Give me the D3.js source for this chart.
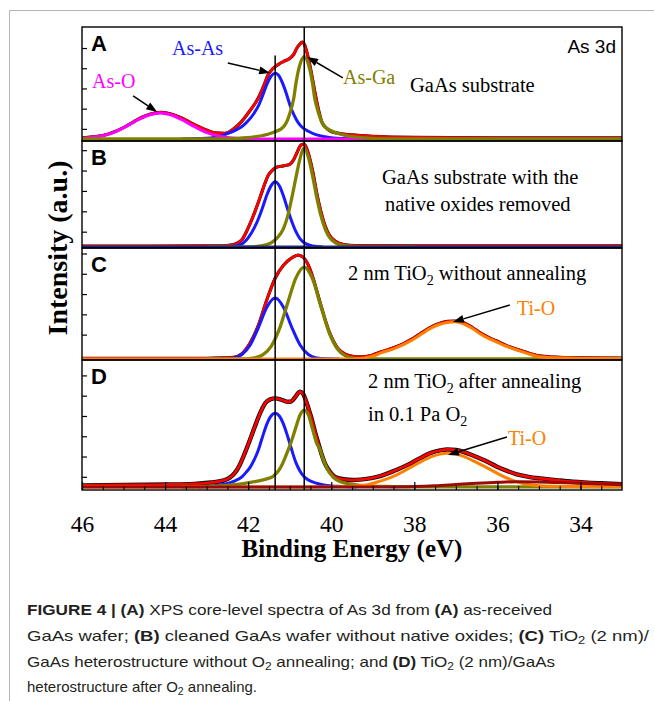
<!DOCTYPE html>
<html>
<head>
<meta charset="utf-8">
<title>As 3d XPS spectra</title>
<script src="https://cdn.jsdelivr.net/npm/d3@7"></script>
<style>
body { margin: 0; background: #fff; }
</style>
</head>
<body>
<script>
// binding energy (eV) , intensity (a.u.)
var xMajor = [46, 44, 42, 40, 38, 36, 34];
var refLines = [41.35, 40.65];

// panel A : as-received GaAs
var fitA = [[46,0.06],[45.75,0.1],[45.5,0.17],[45.25,0.33],[45,0.56],[44.75,0.86],[44.5,1.12],[44.25,1.28],[44.1,1.32],[43.9,1.26],[43.6,1.04],[43.3,0.72],[43,0.44],[42.8,0.3],[42.56,0.28],[42.35,0.5],[42.16,0.86],[41.95,1.42],[41.76,2.01],[41.62,2.65],[41.52,3.17],[41.42,3.45],[41.35,3.58],[41.25,3.72],[41.15,3.83],[40.99,4.0],[40.9,4.2],[40.83,4.49],[40.76,4.68],[40.7,4.79],[40.64,4.65],[40.59,4.32],[40.53,3.8],[40.47,3.17],[40.41,2.5],[40.35,1.85],[40.29,1.3],[40.23,0.86],[40.12,0.55],[39.99,0.36],[39.75,0.26],[39.51,0.2],[39,0.13],[38,0.08],[36,0.06],[33,0.05]];
var asAsA = [[43.6,0],[43.2,0.02],[42.9,0.05],[42.7,0.12],[42.5,0.26],[42.3,0.44],[42.15,0.62],[42.05,0.8],[41.95,1.02],[41.85,1.3],[41.75,1.65],[41.65,2.15],[41.55,2.7],[41.45,3.1],[41.35,3.25],[41.25,3.1],[41.15,2.65],[41.05,2.05],[40.99,1.65],[40.9,1.2],[40.8,0.82],[40.7,0.58],[40.55,0.38],[40.35,0.2],[40.15,0.11],[39.95,0.05],[39.7,0.02],[39.4,0],[38.5,0]];
var asGaA = [[46,0],[42.85,0],[42.25,0.03],[41.85,0.1],[41.55,0.22],[41.35,0.36],[41.15,0.6],[41.05,0.95],[40.95,1.6],[40.9,2.04],[40.85,2.75],[40.75,3.7],[40.65,4.07],[40.55,3.7],[40.45,2.75],[40.4,2.04],[40.35,1.6],[40.25,0.95],[40.15,0.6],[39.95,0.36],[39.75,0.22],[39.45,0.1],[39.05,0.03],[38.5,0],[33,0]];
var asOA = [[46,0.03],[45.87,0.05],[45.62,0.11],[45.37,0.23],[45.12,0.43],[44.87,0.7],[44.62,0.98],[44.37,1.2],[44.12,1.29],[43.87,1.2],[43.62,0.98],[43.37,0.7],[43.12,0.43],[42.87,0.23],[42.62,0.11],[42.37,0.045],[42.12,0.015],[41.8,0],[33,0]];

// panel B : native oxides removed
var fitB = [[46,0.04],[43,0.05],[42.6,0.06],[42.35,0.12],[42.15,0.35],[42.03,0.8],[41.9,1.4],[41.71,2.45],[41.6,3.1],[41.52,3.5],[41.4,3.8],[41.3,3.92],[41.15,3.98],[40.99,4.07],[40.9,4.3],[40.82,4.65],[40.73,5.0],[40.65,5.05],[40.56,4.65],[40.45,3.75],[40.35,2.65],[40.25,1.75],[40.15,1.05],[40.05,0.6],[39.9,0.28],[39.7,0.12],[39.4,0.07],[38,0.05],[33,0.05]];
var asAsB = [[42.8,0],[42.6,0.01],[42.35,0.04],[42.15,0.15],[42.0,0.45],[41.85,0.95],[41.75,1.4],[41.65,1.95],[41.55,2.55],[41.45,3.0],[41.35,3.2],[41.25,3.0],[41.15,2.5],[41.05,1.85],[40.95,1.25],[40.85,0.75],[40.75,0.4],[40.6,0.15],[40.45,0.05],[40.2,0]];
var asGaB = [[43,0],[42.0,0],[41.7,0.05],[41.45,0.2],[41.3,0.45],[41.15,0.9],[41.05,1.5],[40.95,2.4],[40.85,3.4],[40.75,4.35],[40.65,4.85],[40.55,4.4],[40.45,3.5],[40.35,2.45],[40.25,1.55],[40.15,0.9],[40.05,0.5],[39.9,0.2],[39.7,0.07],[39.4,0.02],[39.0,0],[38,0]];
var bgB = [[46,0],[33,0]];

// panel C : 2 nm TiO2, not annealed
var fitC = [[46,0.03],[43,0.03],[42.6,0.05],[42.35,0.08],[42.15,0.26],[41.95,0.8],[41.75,1.68],[41.55,2.92],[41.35,3.98],[41.15,4.62],[40.95,4.98],[40.8,5.12],[40.7,5.05],[40.55,4.62],[40.45,4.07],[40.25,2.65],[40.05,1.35],[39.85,0.55],[39.65,0.22],[39.45,0.12],[39.3,0.1],[39.0,0.2],[38.8,0.35],[38.5,0.55],[38.25,0.77],[38,1.05],[37.8,1.32],[37.6,1.57],[37.4,1.75],[37.2,1.85],[37.02,1.87],[36.8,1.77],[36.6,1.55],[36.4,1.27],[36.2,1.05],[36,0.87],[35.8,0.68],[35.5,0.46],[35.2,0.26],[35,0.15],[34.6,0.09],[34.2,0.06],[33,0.04]];
var asAsC = [[43,0],[42.55,0.01],[42.35,0.05],[42.15,0.22],[41.95,0.69],[41.75,1.56],[41.55,2.55],[41.35,3.0],[41.15,2.55],[40.95,1.56],[40.75,0.69],[40.55,0.22],[40.35,0.05],[40.15,0.01],[39.8,0]];
var asGaC = [[43,0],[42.3,0],[42.05,0.01],[41.85,0.05],[41.65,0.2],[41.45,0.61],[41.25,1.47],[41.05,2.75],[40.85,4.0],[40.65,4.53],[40.45,3.95],[40.25,2.6],[40.05,1.3],[39.85,0.49],[39.65,0.14],[39.45,0.03],[39.25,0.005],[39,0],[33,0]];
var tiOC = [[46,0],[39.6,0],[39.3,0.03],[39.0,0.14],[38.8,0.3],[38.5,0.5],[38.25,0.72],[38.0,1.0],[37.8,1.27],[37.6,1.52],[37.4,1.7],[37.2,1.8],[37.02,1.83],[36.8,1.72],[36.6,1.5],[36.4,1.22],[36.2,1.0],[36.0,0.82],[35.8,0.64],[35.5,0.42],[35.2,0.22],[35.0,0.11],[34.6,0.06],[34.2,0.04],[33.5,0.02],[33,0.02]];

// panel D : 2 nm TiO2, annealed in 0.1 Pa O2
var fitD = [[46,0.08],[45,0.1],[44,0.12],[43.3,0.15],[42.9,0.22],[42.56,0.34],[42.45,0.45],[42.32,0.69],[42.2,1.1],[42.08,1.67],[41.96,2.3],[41.84,2.97],[41.72,3.6],[41.59,4.13],[41.47,4.32],[41.35,4.37],[41.2,4.3],[41.08,4.21],[40.99,4.2],[40.88,4.4],[40.8,4.62],[40.75,4.7],[40.68,4.6],[40.6,4.2],[40.53,3.75],[40.47,3.35],[40.39,2.7],[40.31,2.15],[40.23,1.6],[40.15,1.15],[40.03,0.75],[39.91,0.5],[39.7,0.38],[39.48,0.34],[39.3,0.36],[39,0.45],[38.8,0.55],[38.42,0.85],[38.1,1.15],[37.86,1.42],[37.6,1.68],[37.38,1.8],[37.2,1.85],[37.0,1.82],[36.8,1.72],[36.59,1.55],[36.3,1.3],[36.01,1.0],[35.75,0.78],[35.53,0.62],[35.25,0.5],[34.97,0.42],[34.5,0.32],[34.18,0.26],[33.5,0.18],[33,0.14]];
var asAsD = [[43.2,0],[42.9,0.05],[42.6,0.12],[42.35,0.28],[42.15,0.5],[42.05,0.72],[41.95,0.98],[41.85,1.36],[41.75,1.85],[41.65,2.5],[41.55,3.1],[41.45,3.5],[41.35,3.63],[41.25,3.5],[41.15,3.1],[41.05,2.5],[40.95,1.82],[40.85,1.2],[40.75,0.78],[40.65,0.5],[40.55,0.34],[40.35,0.18],[40.15,0.09],[39.85,0.03],[39.4,0]];
var asGaD = [[43.6,0],[43.0,0.03],[42.5,0.08],[42.2,0.14],[41.95,0.22],[41.75,0.3],[41.55,0.4],[41.4,0.52],[41.25,0.85],[41.15,1.25],[41.05,1.75],[40.95,2.3],[40.85,2.95],[40.75,3.55],[40.65,3.79],[40.55,3.55],[40.45,2.85],[40.35,2.15],[40.28,1.9],[40.2,1.4],[40.1,0.9],[39.95,0.48],[39.8,0.28],[39.6,0.16],[39.35,0.09],[39,0.04],[38.5,0.02],[38,0],[33,0]];
var tiOD = [[46,0],[40.5,0],[39.6,0.02],[39.2,0.08],[38.8,0.3],[38.42,0.6],[38.1,0.95],[37.86,1.22],[37.6,1.48],[37.38,1.62],[37.2,1.66],[37.0,1.62],[36.8,1.5],[36.59,1.3],[36.3,1.0],[36.01,0.68],[35.75,0.42],[35.53,0.25],[35.25,0.12],[34.97,0.06],[34.5,0.03],[34,0.02],[33,0.01]];
var bgD = [[46,0],[38.5,0],[38,0.02],[37.5,0.06],[37,0.12],[36.5,0.18],[36,0.23],[35.5,0.26],[35,0.25],[34.5,0.22],[34,0.18],[33.5,0.14],[33,0.11]];

var yTicksA = [0.5, 1.5, 2.5, 3.5, 4.5];
var yTicksB = [0.75, 1.75, 2.75, 3.75, 4.75];
var yTicksC = [1.2, 2.2, 3.2, 4.2, 5.2];
var yTicksD = [0.5, 1.5, 2.5, 3.5, 4.5, 5.5];

var RED = "#ff0000", BLUE = "#1a1aff", OLIVE = "#808000", MAG = "#ff00ff", ORANGE = "#ff8000";
var serif = "'Liberation Serif','Times New Roman',serif";
var sans = "'Liberation Sans',Arial,sans-serif";

var width = 654, height = 701;
var svg = d3.select("body").append("svg").attr("width", width).attr("height", height).style("display", "block");

// page frame
svg.append("path").attr("d", "M9.5,701 V10.5 H654").attr("fill", "none").attr("stroke", "#b4b4b4").attr("stroke-width", 1);

var x = d3.scaleLinear().domain([46, 33]).range([82, 622]);

var panels = [
  {letter: "A", top: 27, bottom: 141, dom: [-0.1, 5.54], ticks: yTicksA, dataW: 3.2,
   series: [[asAsA, BLUE, 3], [asOA, MAG, 3], [asGaA, OLIVE, 3.3]], fit: fitA},
  {letter: "B", top: 141, bottom: 248, dom: [-0.05, 5.2], ticks: yTicksB, dataW: 3.2,
   series: [[asAsB, BLUE, 3], [asGaB, OLIVE, 3.3], [bgB, "#1c2690", 3]], fit: fitB},
  {letter: "C", top: 248, bottom: 360, dom: [-0.05, 5.47], ticks: yTicksC, dataW: 3.2,
   series: [[asAsC, BLUE, 3], [asGaC, OLIVE, 3.3], [tiOC, ORANGE, 3]], fit: fitC},
  {letter: "D", top: 360, bottom: 490, dom: [-0.15, 6.26], ticks: yTicksD, dataW: 4.4,
   series: [[asAsD, BLUE, 3], [asGaD, OLIVE, 3.3], [tiOD, ORANGE, 3], [bgD, "#9b0a0a", 3]], fit: fitD}
];

panels.forEach(function(p, i) {
  p.y = d3.scaleLinear().domain(p.dom).range([p.bottom, p.top]);
  var line = d3.line().x(function(d){ return x(d[0]); }).y(function(d){ return p.y(d[1]); }).curve(d3.curveMonotoneX);

  svg.append("clipPath").attr("id", "clip" + i).append("rect")
    .attr("x", 82).attr("y", p.top).attr("width", 540).attr("height", p.bottom - p.top);
  var g = svg.append("g").attr("clip-path", "url(#clip" + i + ")");

  // measured data (black) under the envelope (red)
  g.append("path").attr("d", line(p.fit)).attr("fill", "none").attr("stroke", "#111").attr("stroke-width", p.dataW);
  g.append("path").attr("d", line(p.fit)).attr("fill", "none").attr("stroke", RED).attr("stroke-width", 2.7);
  p.series.forEach(function(s) {
    g.append("path").attr("d", line(s[0])).attr("fill", "none").attr("stroke", s[1])
      .attr("stroke-width", s[2]).attr("stroke-linejoin", "round");
  });

  // ticks on the left, pointing inward
  var ya = svg.append("g").attr("transform", "translate(82,0)")
    .call(d3.axisLeft(p.y).tickValues(p.ticks).tickSize(-5).tickFormat(""));
  ya.select(".domain").remove();
  ya.selectAll("line").attr("stroke", "#000").attr("stroke-width", 1.2);

  svg.append("rect").attr("x", 82).attr("y", p.top).attr("width", 540).attr("height", p.bottom - p.top)
    .attr("fill", "none").attr("stroke", "#000").attr("stroke-width", 1.4);

  svg.append("text").attr("x", 91).attr("y", p.top + 24).text(p.letter)
    .style("font-family", sans).style("font-weight", "bold").style("font-size", "22px");
});

// reference lines at As-As and As-Ga positions
var refTop = [55.5, 27];
refLines.forEach(function(e, i) {
  svg.append("line").attr("x1", x(e)).attr("x2", x(e)).attr("y1", refTop[i]).attr("y2", 490)
    .attr("stroke", "#000").attr("stroke-width", 1.5);
});

// x axis
var xa = svg.append("g").attr("transform", "translate(0,490)")
  .call(d3.axisBottom(x).tickValues(xMajor).tickSize(-8).tickPadding(25).tickFormat(d3.format("d")));
xa.select(".domain").remove();
xa.selectAll("line").attr("stroke", "#000").attr("stroke-width", 1.2);
xa.selectAll("text").style("font-family", serif).style("font-size", "23.5px").attr("fill", "#000");
var xm = svg.append("g").attr("transform", "translate(0,490)")
  .call(d3.axisBottom(x).tickValues(d3.range(45.5, 33, -0.5)).tickSize(-4).tickFormat(""));
xm.select(".domain").remove();
xm.selectAll("line").attr("stroke", "#000").attr("stroke-width", 1.1);

svg.append("text").attr("x", 352).attr("y", 557).attr("text-anchor", "middle").text("Binding Energy (eV)")
  .style("font-family", serif).style("font-weight", "bold").style("font-size", "25px");
svg.append("text").attr("transform", "translate(67,248) rotate(-90)").attr("text-anchor", "middle")
  .text("Intensity (a.u.)").style("font-family", serif).style("font-weight", "bold").style("font-size", "28px");

// annotations
function label(px, py, txt, color, size, anchor) {
  return svg.append("text").attr("x", px).attr("y", py).attr("text-anchor", anchor || "start")
    .attr("fill", color).style("font-family", serif).style("font-size", (size || 20) + "px").text(txt);
}
svg.append("text").attr("x", 616).attr("y", 53).attr("text-anchor", "end").text("As 3d")
  .style("font-family", sans).style("font-size", "19px");
label(172, 55, "As-As", BLUE);
label(92, 88, "As-O", MAG);
label(343, 84, "As-Ga", OLIVE);
label(410, 92, "GaAs substrate", "#000", 20.5);
label(382, 184, "GaAs substrate with the", "#000", 20.5);
label(385, 211, "native oxides removed", "#000", 20.5);

function subText(px, py, parts) {
  var t = svg.append("text").attr("x", px).attr("y", py).style("font-family", serif).style("font-size", "20.5px");
  parts.forEach(function(s) {
    if (s.sub) t.append("tspan").attr("dy", 5).style("font-size", "14px").text(s.sub);
    else t.append("tspan").attr("dy", s.up ? -5 : 0).text(s.t);
  });
}
subText(348, 280, [{t: "2 nm TiO"}, {sub: "2"}, {t: " without annealing", up: true}]);
subText(368, 388, [{t: "2 nm TiO"}, {sub: "2"}, {t: " after annealing", up: true}]);
subText(368, 421, [{t: "in 0.1 Pa O"}, {sub: "2"}]);
label(517, 315, "Ti-O", ORANGE);
label(508, 445, "Ti-O", ORANGE);

var arrows = [
  {p: 0, from: [44.77, 2.13], to: [44.19, 1.34]},
  {p: 0, from: [42.49, 3.76], to: [41.47, 3.27]},
  {p: 0, from: [39.72, 3.02], to: [40.58, 4.06]},
  {p: 2, from: [35.7, 2.66], to: [37.07, 1.82]},
  {p: 3, from: [35.77, 2.46], to: [37.19, 1.58]}
];
arrows.forEach(function(a) {
  var yy = panels[a.p].y;
  var x1 = x(a.from[0]), y1 = yy(a.from[1]), x2 = x(a.to[0]), y2 = yy(a.to[1]);
  var ang = Math.atan2(y2 - y1, x2 - x1), L = 11, hw = 4;
  var bx = x2 - L * Math.cos(ang), by = y2 - L * Math.sin(ang);
  svg.append("line").attr("x1", x1).attr("y1", y1).attr("x2", bx).attr("y2", by).attr("stroke", "#000").attr("stroke-width", 1.5);
  svg.append("path").attr("fill", "#000").attr("d",
    "M" + x2 + "," + y2 +
    "L" + (bx + hw * Math.sin(ang)) + "," + (by - hw * Math.cos(ang)) +
    "L" + (bx - hw * Math.sin(ang)) + "," + (by + hw * Math.cos(ang)) + "Z");
});

// caption
var capLines = [
  [["FIGURE 4 | ", 1], ["(A)", 1], [" XPS core-level spectra of As 3d from ", 0], ["(A)", 1], [" as-received", 0]],
  [["GaAs wafer; ", 0], ["(B)", 1], [" cleaned GaAs wafer without native oxides; ", 0], ["(C)", 1], [" TiO", 0], ["2", 2], [" (2 nm)/", 0]],
  [["GaAs heterostructure without O", 0], ["2", 2], [" annealing; and ", 0], ["(D)", 1], [" TiO", 0], ["2", 2], [" (2 nm)/GaAs", 0]],
  [["heterostructure after O", 0], ["2", 2], [" annealing.", 0]]
];
var capY = [615, 641, 666.5, 691.5];
var capLen = [525, 622, 528, 230];
capLines.forEach(function(parts, i) {
  var t = svg.append("text").attr("x", 27).attr("y", capY[i]).attr("fill", "#231f20")
    .attr("textLength", capLen[i]).attr("lengthAdjust", "spacingAndGlyphs")
    .style("font-family", sans).style("font-size", "15px");
  var shifted = false;
  parts.forEach(function(s) {
    var ts = t.append("tspan").text(s[0]);
    if (s[1] === 1) ts.style("font-weight", "bold");
    if (s[1] === 2) { ts.attr("dy", 3).style("font-size", "10.5px"); shifted = true; }
    else if (shifted) { ts.attr("dy", -3); shifted = false; }
  });
});
</script>
</body>
</html>
